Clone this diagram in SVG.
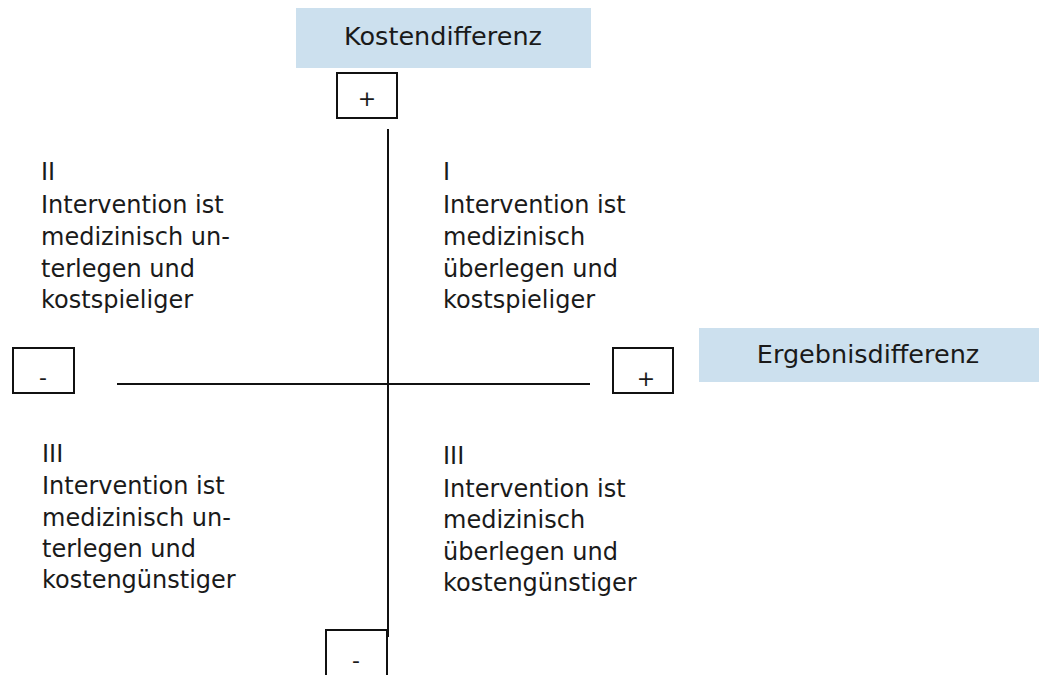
<svg xmlns="http://www.w3.org/2000/svg" width="1039" height="675" viewBox="0 0 1039 675">
<style>
.t{font-family:"DejaVu Sans","Liberation Sans",sans-serif;fill:#1a1a1a}
.q{font-size:24px}
.h{font-size:25.5px;text-anchor:middle}
.s{font-size:22px;text-anchor:middle}
.lbl{fill:#cce0ee}
.sb{fill:#fff;stroke:#111;stroke-width:2}
.ax{stroke:#111;stroke-width:2;fill:none}
</style>
<rect width="1039" height="675" fill="#fff"/>
<g id="connectors">
<line class="ax" x1="388" y1="129" x2="388" y2="637"/>
<line class="ax" x1="117" y1="384" x2="590" y2="384"/>
</g>
<g id="kostendifferenz">
<rect class="lbl" x="296" y="8" width="295" height="60"/>
<text class="t h" x="443" y="45">Kostendifferenz</text>
</g>
<g id="ergebnisdifferenz">
<rect class="lbl" x="699" y="328" width="340" height="54"/>
<text class="t h" x="868" y="363">Ergebnisdifferenz</text>
</g>
<g id="plus-top">
<rect class="sb" x="337" y="73" width="60" height="45"/>
<text class="t s" x="367" y="106">+</text>
</g>
<g id="minus-left">
<rect class="sb" x="13" y="348" width="61" height="45"/>
<text class="t s" x="43" y="385">-</text>
</g>
<g id="plus-right">
<rect class="sb" x="613" y="348" width="60" height="45"/>
<text class="t s" x="646" y="386">+</text>
</g>
<g id="minus-bottom">
<rect class="sb" x="326" y="630" width="61" height="50"/>
<text class="t s" x="356" y="668">-</text>
</g>
<g id="quadrant-2">
<text class="t q" x="41"><tspan x="41" y="180">II</tspan><tspan x="41" y="213">Intervention ist</tspan><tspan x="41" y="245">medizinisch un-</tspan><tspan x="41" y="277">terlegen und</tspan><tspan x="41" y="308">kostspieliger</tspan></text>
</g>
<g id="quadrant-1">
<text class="t q" x="443"><tspan x="443" y="180">I</tspan><tspan x="443" y="213">Intervention ist</tspan><tspan x="443" y="245">medizinisch</tspan><tspan x="443" y="277">überlegen und</tspan><tspan x="443" y="308">kostspieliger</tspan></text>
</g>
<g id="quadrant-3-left">
<text class="t q" x="42"><tspan x="42" y="462">III</tspan><tspan x="42" y="494">Intervention ist</tspan><tspan x="42" y="526">medizinisch un-</tspan><tspan x="42" y="557">terlegen und</tspan><tspan x="42" y="588">kostengünstiger</tspan></text>
</g>
<g id="quadrant-3-right">
<text class="t q" x="443"><tspan x="443" y="464">III</tspan><tspan x="443" y="497">Intervention ist</tspan><tspan x="443" y="528">medizinisch</tspan><tspan x="443" y="560">überlegen und</tspan><tspan x="443" y="591">kostengünstiger</tspan></text>
</g>
</svg>
